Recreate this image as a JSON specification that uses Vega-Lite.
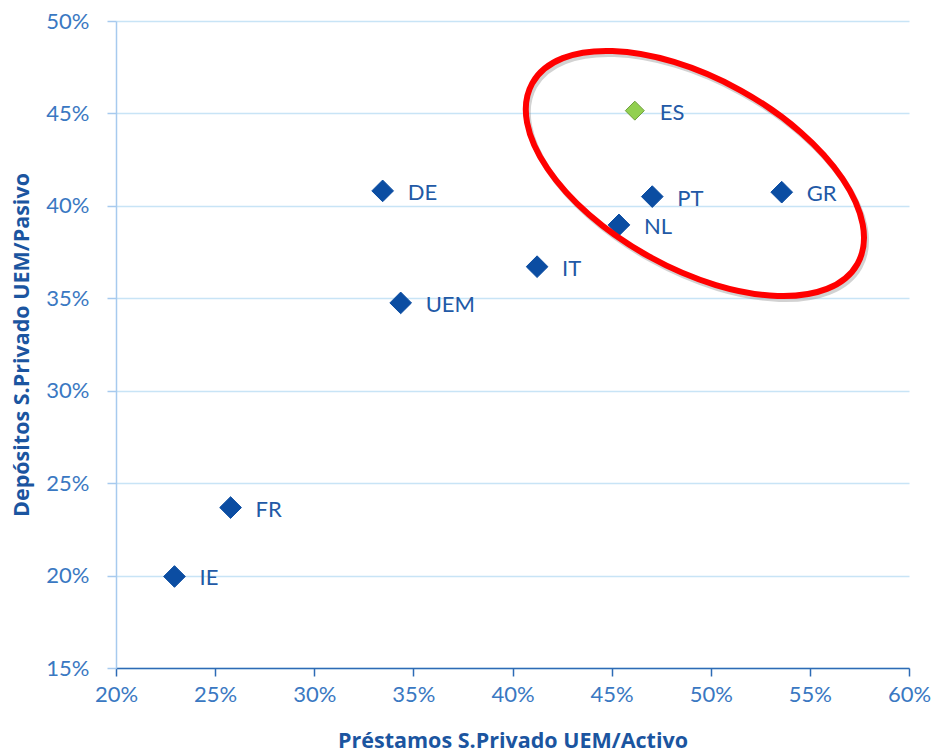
{
  "$schema": "https://vega.github.io/schema/vega-lite/v6.json",
  "autosize": {"type": "none"},
  "width": 793,
  "height": 647,
  "padding": {"left": 116, "top": 21, "right": 23, "bottom": 86},
  "background": "white",
  "config": {
    "view": {"stroke": null},
    "font": "Lato"
  },
  "datasets": {
    "pts": [
      {"pais": "ES", "prestamos": 46.17, "depositos": 45.15, "grupo": "ES"},
      {"pais": "PT", "prestamos": 47.05, "depositos": 40.50, "grupo": "otros"},
      {"pais": "GR", "prestamos": 53.58, "depositos": 40.74, "grupo": "otros"},
      {"pais": "NL", "prestamos": 45.37, "depositos": 38.97, "grupo": "otros"},
      {"pais": "DE", "prestamos": 33.45, "depositos": 40.81, "grupo": "otros"},
      {"pais": "IT", "prestamos": 41.24, "depositos": 36.71, "grupo": "otros"},
      {"pais": "UEM", "prestamos": 34.36, "depositos": 34.75, "grupo": "otros"},
      {"pais": "FR", "prestamos": 25.78, "depositos": 23.68, "grupo": "otros"},
      {"pais": "IE", "prestamos": 22.95, "depositos": 19.95, "grupo": "otros"}
    ],
    "elipse": [
      {"prestamos": 49.2, "depositos": 41.75}
    ]
  },
  "encoding": {
    "x": {
      "field": "prestamos", "type": "quantitative",
      "scale": {"domain": [20, 60], "nice": false, "zero": false},
      "axis": {
        "title": "Préstamos S.Privado UEM/Activo",
        "values": [20, 25, 30, 35, 40, 45, 50, 55, 60],
        "labelExpr": "datum.value + '%'",
        "labelFlush": false,
        "grid": false,
        "domainColor": "#2D6BB5", "domainWidth": 1.5,
        "tickColor": "#2D6BB5", "tickWidth": 1.5, "tickSize": 8,
        "labelColor": "#3A78C2", "labelFontSize": 22, "labelPadding": 8, "labelFont": "Lato",
        "titleColor": "#1B55A0", "titleFontSize": 21.5, "titleFontWeight": "bold", "titleFont": "Open Sans",
        "titlePadding": 25
      }
    },
    "y": {
      "field": "depositos", "type": "quantitative",
      "scale": {"domain": [15, 50], "nice": false, "zero": false},
      "axis": {
        "title": "Depósitos S.Privado UEM/Pasivo",
        "values": [15, 20, 25, 30, 35, 40, 45, 50],
        "labelExpr": "datum.value + '%'",
        "labelFlush": false,
        "grid": true, "gridColor": "#C8E4F6", "gridWidth": 1.5,
        "domainColor": "#A7CAEE", "domainWidth": 1.5,
        "tickColor": "#A7CAEE", "tickWidth": 1.5, "tickSize": 9,
        "labelColor": "#3A78C2", "labelFontSize": 22, "labelPadding": 18, "labelFont": "Lato",
        "titleColor": "#1B55A0", "titleFontSize": 21.5, "titleFontWeight": "bold", "titleFont": "Open Sans",
        "titlePadding": 12
      }
    }
  },
  "layer": [
    {
      "data": {"name": "pts"},
      "mark": {"type": "point", "shape": "diamond", "filled": true, "opacity": 1, "strokeWidth": 1},
      "encoding": {
        "fill": {"field": "grupo", "type": "nominal", "scale": {"domain": ["otros", "ES"], "range": ["#0B4DA2", "#92D050"]}, "legend": null},
        "stroke": {"field": "grupo", "type": "nominal", "scale": {"domain": ["otros", "ES"], "range": ["#0B4DA2", "#6E9E3C"]}, "legend": null},
        "size": {"field": "grupo", "type": "nominal", "scale": {"domain": ["otros", "ES"], "range": [470, 360]}, "legend": null}
      }
    },
    {
      "data": {"name": "pts"},
      "mark": {"type": "text", "align": "left", "baseline": "middle", "dx": 25, "dy": 2, "fontSize": 22, "font": "Lato", "color": "#2259A6"},
      "encoding": {"text": {"field": "pais"}}
    },
    {
      "data": {"name": "elipse"},
      "mark": {"type": "point", "filled": false, "shape": "M 1 0 C 1 0.2817 0.5523 0.51 0 0.51 C -0.5523 0.51 -1 0.2817 -1 0 C -1 -0.2817 -0.5523 -0.51 0 -0.51 C 0.5523 -0.51 1 -0.2817 1 0 Z", "size": 138384, "angle": 29, "stroke": "#7F7F7F", "strokeWidth": 6, "opacity": 0.35, "xOffset": 2, "yOffset": 3}
    },
    {
      "data": {"name": "elipse"},
      "mark": {"type": "point", "filled": false, "shape": "M 1 0 C 1 0.2817 0.5523 0.51 0 0.51 C -0.5523 0.51 -1 0.2817 -1 0 C -1 -0.2817 -0.5523 -0.51 0 -0.51 C 0.5523 -0.51 1 -0.2817 1 0 Z", "size": 138384, "angle": 29, "stroke": "#FF0000", "strokeWidth": 6, "opacity": 1}
    }
  ]
}
